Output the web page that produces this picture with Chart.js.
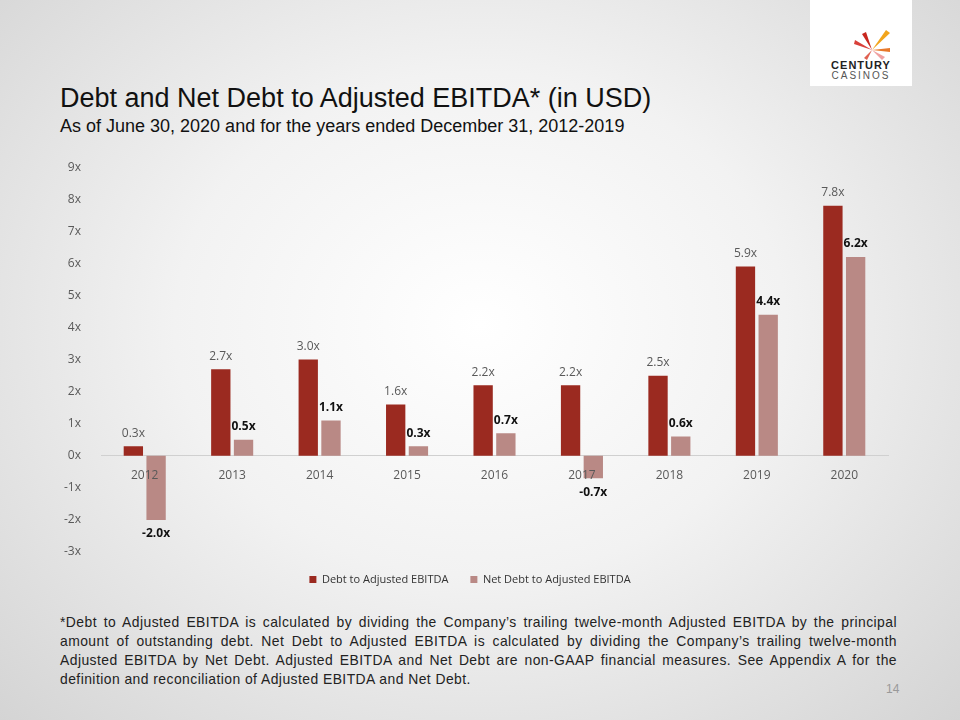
<!DOCTYPE html>
<html><head><meta charset="utf-8">
<script src="https://cdn.jsdelivr.net/npm/chart.js@4"></script>
<style>
body{margin:0;width:960px;height:720px;overflow:hidden;font-family:"Liberation Sans",Arial,sans-serif;
background:radial-gradient(ellipse at 50% 45%,#ffffff 0%,#f2f2f2 45%,#d4d4d4 100%);position:relative}
#logo{position:absolute;left:810px;top:0;width:102px;height:86px;background:#fff}
#title{position:absolute;left:60px;top:83px;font-size:27px;color:#111}
#sub{position:absolute;left:60px;top:116px;font-size:18px;color:#111}
#wrap{position:absolute;left:44px;top:148px;width:856px;height:447px}
#note{position:absolute;left:60px;top:613px;width:837px;font-size:13.9px;letter-spacing:0.45px;line-height:19px;color:#222;text-align:justify}
#pg{position:absolute;left:886px;top:682px;font-size:12px;color:#999}
</style></head><body>
<div id="logo"><svg width="102" height="86">
<g transform="translate(62,50)">
<path d="M0,0 L-10,-16 L-6,-18 Z" fill="#c8261e"/>
<path d="M0,0 L14,-20 L18,-17 Z" fill="#f2a51c"/>
<path d="M0,0 L-18,-6 L-17,-10 Z" fill="#d9403a"/>
<path d="M0,0 L18,2 L18,-2 Z" fill="#e8792b"/>
<path d="M0,0 L10,10 L13,7 Z" fill="#f0a0a0"/>
<path d="M0,0 L-8,8 L-5,10 Z" fill="#e06050"/>
</g>
<text x="51" y="69" font-size="11" font-weight="bold" text-anchor="middle" fill="#222" letter-spacing="1">CENTURY</text>
<text x="51" y="79" font-size="10" text-anchor="middle" fill="#555" letter-spacing="2">CASINOS</text>
</svg></div>
<div id="title">Debt and Net Debt to Adjusted EBITDA* (in USD)</div>
<div id="sub">As of June 30, 2020 and for the years ended December 31, 2012-2019</div>
<div id="wrap"><canvas id="c"></canvas></div>
<div id="note">*Debt to Adjusted EBITDA is calculated by dividing the Company’s trailing twelve-month Adjusted EBITDA by the principal amount of outstanding debt. Net Debt to Adjusted EBITDA is calculated by dividing the Company’s trailing twelve-month Adjusted EBITDA by Net Debt. Adjusted EBITDA and Net Debt are non-GAAP financial measures. See Appendix A for the definition and reconciliation of Adjusted EBITDA and Net Debt.</div>
<div id="pg">14</div>
<script>
const years = ["2012","2013","2014","2015","2016","2017","2018","2019","2020"];
const debt = [0.3, 2.7, 3.0, 1.6, 2.2, 2.2, 2.5, 5.9, 7.8];
const netDebt = [-2.0, 0.5, 1.1, 0.3, 0.7, -0.7, 0.6, 4.4, 6.2];

const labelPlugin = {
  id: "vals",
  afterDatasetsDraw(chart) {
    const ctx = chart.ctx;
    ctx.save();
    ctx.textAlign = "center";
    // year labels drawn over the bars, just under the zero line
    const x = chart.scales.x, y0 = chart.scales.y.getPixelForValue(0);
    ctx.fillStyle = "#595959";
    ctx.font = "12px 'Open Sans', sans-serif";
    ctx.textBaseline = "top";
    years.forEach((yr, j) => ctx.fillText(yr, x.getPixelForValue(j), y0 + 14));
    chart.data.datasets.forEach((ds, i) => {
      const meta = chart.getDatasetMeta(i);
      ctx.fillStyle = i === 0 ? "#595959" : "#111";
      ctx.font = (i === 0 ? "" : "bold ") + "12px 'Open Sans', sans-serif";
      meta.data.forEach((bar, j) => {
        const v = ds.data[j];
        const txt = v.toFixed(1) + "x";
        if (v >= 0) { ctx.textBaseline = "bottom"; ctx.fillText(txt, bar.x, bar.y - 7); }
        else { ctx.textBaseline = "top"; ctx.fillText(txt, bar.x, bar.y + 8); }
      });
    });
    ctx.restore();
  }
};

new Chart(document.getElementById("c"), {
  type: "bar",
  data: {
    labels: years,
    datasets: [
      { label: "Debt to Adjusted EBITDA", data: debt, backgroundColor: "#9b2a20" },
      { label: "Net Debt to Adjusted EBITDA", data: netDebt, backgroundColor: "#b98985" }
    ]
  },
  options: {
    responsive: true, maintainAspectRatio: false, animation: false,
    datasets: { bar: { categoryPercentage: 0.52, barPercentage: 0.85 } },
    layout: { padding: { top: 14, right: 12, left: 8 } },
    scales: {
      y: {
        min: -3, max: 9,
        ticks: { stepSize: 1, color: "#595959", padding: 12, font: { size: 12, family: "'Open Sans'" }, callback: v => v + "x" },
        grid: { display: false }, border: { display: false }
      },
      x: {
        position: { y: 0 },
        ticks: { display: false },
        grid: { display: false, drawTicks: false }, border: { color: "#d0d0d0" }
      }
    },
    plugins: {
      legend: { position: "bottom", labels: { boxWidth: 7, boxHeight: 7, color: "#333", font: { size: 11, family: "'Open Sans'" }, padding: 22 } },
      tooltip: { enabled: false }
    }
  },
  plugins: [labelPlugin]
});
</script>
</body></html>
